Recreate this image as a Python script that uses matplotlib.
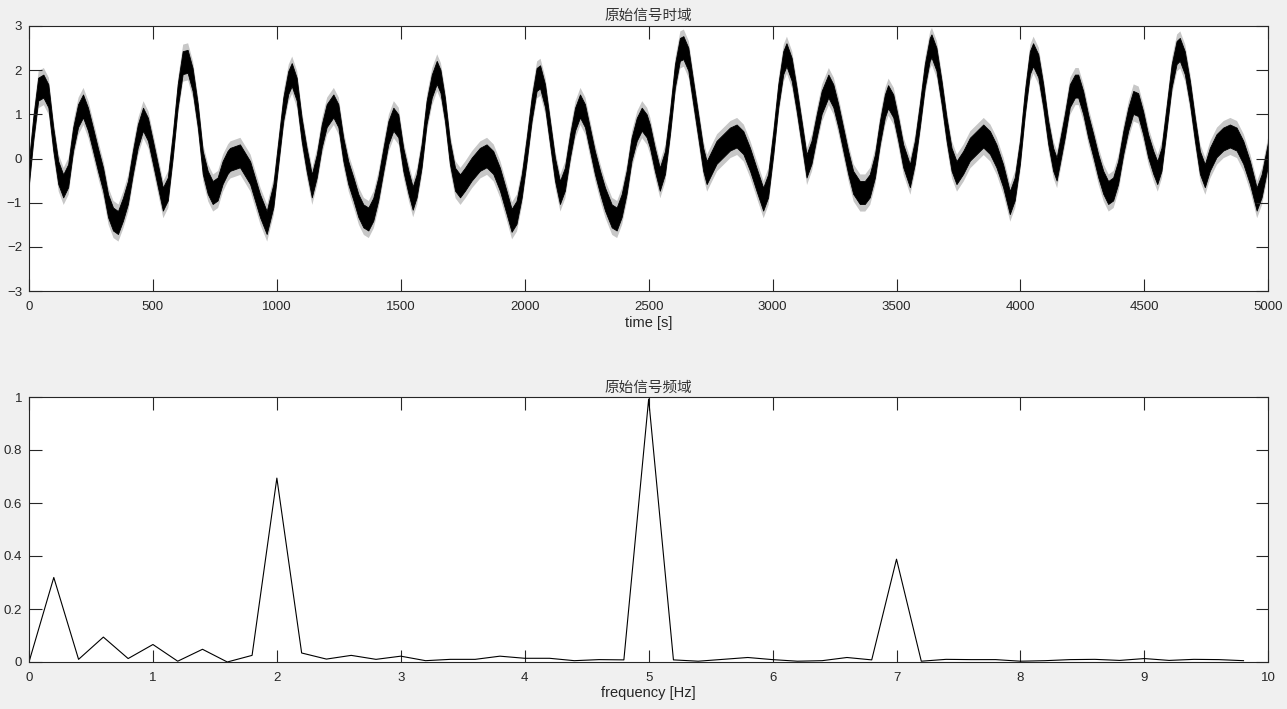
import matplotlib
matplotlib.use("Agg")
import matplotlib.pyplot as plt
import numpy as np

# ---------------- data ----------------
# time-domain signal: centre of the noisy band at key times (s)
time_s = [0, 17, 37, 58, 78, 98, 118, 138, 158, 178, 198, 218, 238, 258, 278, 299,
          319, 339, 359, 379, 399, 419, 439, 460, 480, 500, 520, 540, 560, 580, 600,
          620, 640, 660, 681, 701, 721, 741, 761, 781, 801,
          811, 851, 892, 932, 959, 986, 1006, 1026, 1046, 1060, 1080, 1100, 1120,
          1141, 1161, 1181, 1201, 1228, 1248, 1268, 1288, 1309, 1329, 1349, 1369,
          1389, 1409, 1430, 1450, 1470, 1490, 1510, 1531, 1548, 1564, 1584, 1604,
          1625, 1645, 1660,
          1678, 1698, 1719, 1739, 1759, 1786, 1819, 1846, 1873, 1900, 1927, 1947,
          1967, 1988, 2008, 2028, 2048, 2062, 2082, 2102, 2122, 2142, 2162, 2183,
          2203, 2223, 2243, 2263, 2283, 2304, 2324, 2351, 2371, 2391, 2411, 2431,
          2452, 2472, 2492,
          2505, 2525, 2545, 2566, 2586, 2606, 2626, 2640, 2660, 2680, 2700, 2720,
          2734, 2754, 2774, 2801, 2828, 2855, 2882, 2909, 2935, 2962, 2982, 3003,
          3023, 3043, 3056, 3077, 3097, 3117, 3137, 3157, 3178, 3198, 3225, 3245,
          3265, 3285, 3305, 3325, 3352,
          3372, 3392, 3413, 3433, 3453, 3466, 3487, 3507, 3527, 3554, 3574, 3594,
          3614, 3634, 3641, 3661, 3682, 3702, 3722, 3742, 3769, 3796, 3823, 3850,
          3877, 3903, 3930, 3957, 3977, 3998, 4018, 4038, 4051, 4072, 4092, 4112,
          4132, 4146, 4159,
          4179, 4199, 4220, 4233, 4253, 4273, 4294, 4314, 4334, 4354, 4374, 4394,
          4415, 4435, 4455, 4475, 4495, 4515, 4536, 4552, 4569, 4589, 4610, 4630,
          4643, 4663, 4684, 4704, 4724, 4744, 4764, 4791, 4818, 4845, 4872, 4899,
          4926, 4953, 4973, 5000]
signal = [-0.30, 0.66, 1.57, 1.64, 1.42, 0.44, -0.32, -0.62, -0.39, 0.44, 0.97, 1.19,
          0.89, 0.44, -0.02, -0.47, -1.07, -1.37, -1.45, -1.15, -0.77, -0.09, 0.51,
          0.89, 0.66, 0.14, -0.39, -0.92, -0.69, 0.29, 1.42, 2.17, 2.20, 1.79, 0.97,
          -0.09, -0.54, -0.77, -0.69, -0.32, -0.09,
          -0.02, 0.06, -0.32, -1.07, -1.45, -0.84, 0.14, 1.12, 1.72, 1.90, 1.57, 0.66,
          -0.02, -0.62, -0.17, 0.51, 0.97, 1.19, 0.97, 0.21, -0.32, -0.69, -1.07,
          -1.30, -1.37, -1.15, -0.69, -0.02, 0.59, 0.89, 0.74, -0.02, -0.54, -0.90,
          -0.62, 0.06, 1.04, 1.64, 1.95, 1.75,
          1.12, 0.14, -0.47, -0.62, -0.47, -0.24, -0.02, 0.06, -0.09, -0.47, -1.00,
          -1.40, -1.22, -0.62, 0.21, 1.12, 1.79, 1.85, 1.42, 0.59, -0.24, -0.77,
          -0.47, 0.29, 0.89, 1.19, 0.97, 0.44, -0.09, -0.54, -0.92, -1.30, -1.37,
          -1.07, -0.54, 0.21, 0.66, 0.89, 0.74,
          0.51, -0.02, -0.47, -0.09, 0.81, 1.87, 2.47, 2.51, 2.25, 1.49, 0.74, -0.02,
          -0.32, -0.09, 0.14, 0.29, 0.44, 0.51, 0.36, -0.02, -0.47, -0.92, -0.62,
          0.36, 1.42, 2.17, 2.35, 2.02, 1.34, 0.59, -0.17, 0.14, 0.74, 1.27, 1.64,
          1.42, 0.97, 0.44, -0.09, -0.54, -0.77,
          -0.77, -0.62, -0.17, 0.59, 1.19, 1.40, 1.19, 0.66, 0.06, -0.39, 0.14, 0.97,
          1.87, 2.47, 2.55, 2.25, 1.49, 0.66, -0.02, -0.32, -0.09, 0.21, 0.36, 0.51,
          0.36, 0.06, -0.39, -1.00, -0.69, 0.14, 1.27, 2.17, 2.35, 2.10, 1.42, 0.59,
          -0.02, -0.24, 0.14,
          0.74, 1.42, 1.64, 1.64, 1.27, 0.74, 0.29, -0.17, -0.54, -0.77, -0.69, -0.32,
          0.36, 0.89, 1.27, 1.22, 0.81, 0.29, -0.09, -0.32, -0.02, 0.89, 1.87, 2.40,
          2.47, 2.17, 1.49, 0.66, -0.09, -0.39, -0.02, 0.29, 0.44, 0.51, 0.44, 0.14,
          -0.32, -0.92, -0.62, 0.14]
noise_core = 0.26     # half-width of the dense part of the noise band
noise_spikes = 0.42   # half-width reached by the spikes

# frequency-domain magnitude
freq_hz = [0.0, 0.2, 0.4, 0.6, 0.8, 1.0, 1.2, 1.4, 1.6, 1.8, 2.0, 2.2, 2.4, 2.6, 2.8,
           3.0, 3.2, 3.4, 3.6, 3.8, 4.0, 4.2, 4.4, 4.6, 4.8, 5.0, 5.2, 5.4, 5.6, 5.8,
           6.0, 6.2, 6.4, 6.6, 6.8, 7.0, 7.2, 7.4, 7.6, 7.8, 8.0, 8.2, 8.4, 8.6, 8.8,
           9.0, 9.2, 9.4, 9.6, 9.8]
magnitude = [0.0, 0.319, 0.010, 0.094, 0.013, 0.066, 0.003, 0.048, 0.0, 0.025, 0.694,
             0.034, 0.011, 0.025, 0.010, 0.022, 0.005, 0.010, 0.010, 0.022, 0.014,
             0.014, 0.005, 0.009, 0.008, 0.992, 0.008, 0.003, 0.010, 0.017, 0.009,
             0.003, 0.005, 0.017, 0.008, 0.388, 0.003, 0.010, 0.009, 0.009, 0.003,
             0.005, 0.009, 0.010, 0.006, 0.013, 0.006, 0.010, 0.009, 0.005]

top_title = "原始信号时域"
bottom_title = "原始信号频域"
top_xlabel = "time [s]"
bottom_xlabel = "frequency [Hz]"
top_xticks = [0, 500, 1000, 1500, 2000, 2500, 3000, 3500, 4000, 4500, 5000]
top_yticks = [-3, -2, -1, 0, 1, 2, 3]
bottom_xticks = [0, 1, 2, 3, 4, 5, 6, 7, 8, 9, 10]
bottom_yticks = [0, 0.2, 0.4, 0.6, 0.8, 1]

# ---------------- drawing ----------------
plt.rcParams['font.family'] = ['Liberation Sans', 'Noto Sans CJK SC', 'DejaVu Sans']
AX_COL = '#262626'
W, H = 1287, 709
fig = plt.figure(figsize=(W / 100, H / 100), dpi=100, facecolor='#f0f0f0')

def px_axes(left, top, right, bottom):
    return fig.add_axes([left / W, 1 - bottom / H, (right - left) / W, (bottom - top) / H])

ax1 = px_axes(29, 26, 1268.3, 291)
ax2 = px_axes(29, 397, 1268.3, 662)

for ax in (ax1, ax2):
    ax.set_facecolor('white')
    for s in ax.spines.values():
        s.set_color(AX_COL)
        s.set_linewidth(0.8)
    ax.tick_params(direction='in', length=9, width=0.8, color=AX_COL,
                   labelcolor=AX_COL, labelsize=9.5, top=True, right=True,
                   pad=5)
    ax.tick_params(axis='x', pad=7)

t = np.array(time_s)
s = np.array(signal)
ax1.fill_between(t, s - noise_spikes, s + noise_spikes, color='black', alpha=0.22,
                 linewidth=0)
ax1.fill_between(t, s - noise_core, s + noise_core, color='black', linewidth=0.6)
ax1.set_xlim(0, 5000)
ax1.set_ylim(-3, 3)
ax1.set_xticks(top_xticks)
ax1.set_yticks(top_yticks)
ax1.set_title(top_title, fontsize=10.5, color='#333333', pad=4)
ax1.set_xlabel(top_xlabel, fontsize=10.5, color=AX_COL, labelpad=2)

ax2.plot(freq_hz, magnitude, color='black', linewidth=0.8)
ax2.set_xlim(0, 10)
ax2.set_ylim(0, 1)
ax2.set_xticks(bottom_xticks)
ax2.set_yticks(bottom_yticks)
ax2.set_yticklabels([f"{v:g}" for v in bottom_yticks])
ax2.set_title(bottom_title, fontsize=10.5, color='#333333', pad=4)
ax2.set_xlabel(bottom_xlabel, fontsize=10.5, color=AX_COL, labelpad=2)

fig.savefig('out.png', dpi=100, facecolor=fig.get_facecolor())
